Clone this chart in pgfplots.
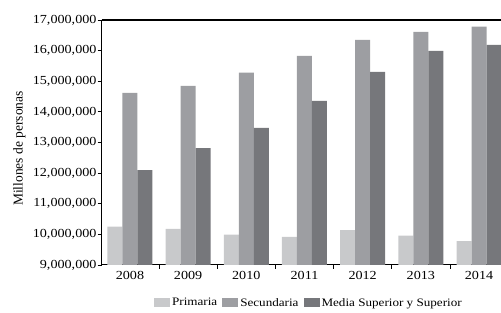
\documentclass[border=0pt]{standalone}
\usepackage{fontspec}
\setmainfont{Liberation Serif}[FakeStretch=1.15]
\newfontfamily\plainserif{Liberation Serif}
\usepackage{pgfplots}
\pgfplotsset{compat=1.18}
\definecolor{cPri}{HTML}{C8C9CB}
\definecolor{cSec}{HTML}{9D9EA2}
\definecolor{cMed}{HTML}{76777B}
\begin{document}
\begin{tikzpicture}
\begin{axis}[
  scale only axis,
  width=399.3bp, height=245bp,
  ymin=9000000, ymax=17000000,
  ytick={9000000,10000000,11000000,12000000,13000000,14000000,15000000,16000000,17000000},
  scaled ticks=false,
  /pgf/number format/.cd, fixed, precision=0, 1000 sep={,}, assume math mode=true,
  /pgfplots/.cd,
  xmin=-0.486, xmax=6.378,
  xtick={0,1,2,3,4,5,6},
  xticklabels={2008,2009,2010,2011,2012,2013,2014},
  minor xtick={0.5,1.5,2.5,3.5,4.5,5.5},
  major x tick style={draw=none},
  tick align=outside,
  major tick length=4bp, minor tick length=4bp,
  tick style={black, line width=0.8bp},
  axis x line*=bottom, axis y line*=left,
  axis line style={line width=1bp, -},
  ybar=0pt, bar width=15bp,
  ticklabel style={font=\fontsize{12.3bp}{14bp}\selectfont},
  yticklabel style={inner sep=1bp},
  xticklabel style={inner sep=1bp, yshift=-1bp},
  ylabel={Millones de personas},
  ylabel style={font=\plainserif\fontsize{13.5bp}{15bp}\selectfont, at={(axis description cs:-0.206,0.4755)}, anchor=center},
  legend columns=3,
  legend style={draw=none, fill=none, at={(axis description cs:0.519,-0.155)}, anchor=center,
    font=\fontsize{11.4bp}{13bp}\selectfont, inner sep=0pt,
    /tikz/every even column/.append style={column sep=3bp}},
  legend cell align=left,
  legend image code/.code={\fill[#1] (0bp,-4bp) rectangle (16bp,5bp);},
]
\addplot[fill=cPri, draw=none] coordinates {(0,10250000) (1,10180000) (2,9990000) (3,9920000) (4,10140000) (5,9960000) (6,9780000)};
\addplot[fill=cSec, draw=none] coordinates {(0,14620000) (1,14850000) (2,15280000) (3,15830000) (4,16350000) (5,16610000) (6,16780000)};
\addplot[fill=cMed, draw=none] coordinates {(0,12100000) (1,12820000) (2,13480000) (3,14360000) (4,15310000) (5,15990000) (6,16190000)};
\legend{Primaria, Secundaria, Media Superior y Superior}
\draw[line width=1.3bp, black] (rel axis cs:0,1) -- (rel axis cs:1,1);
\coordinate (SW) at (rel axis cs:0,0);
\coordinate (NE) at (rel axis cs:1,1);
\end{axis}
\pgfresetboundingbox
\path ([shift={(-101.7bp,-48bp)}]SW) rectangle ([shift={(0bp,20bp)}]NE);
\end{tikzpicture}
\end{document}
